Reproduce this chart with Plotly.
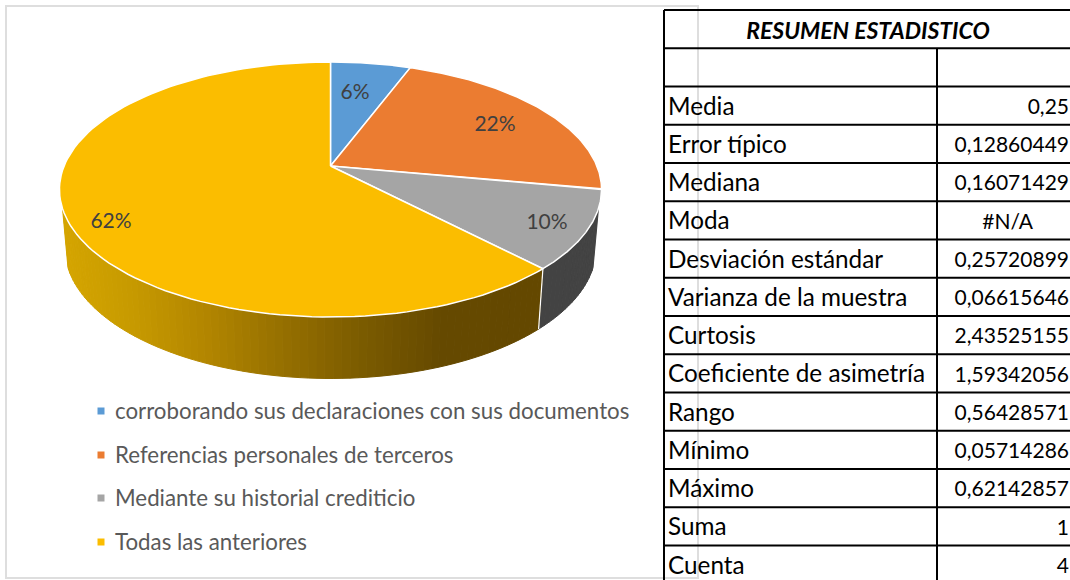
import numpy as np
import plotly.graph_objects as go

# encuesta: respuestas por opcion (140 en total, cuadra con el resumen)
categories = [
    "corroborando sus declaraciones con sus documentos",
    "Referencias personales de terceros",
    "Mediante su historial crediticio",
    "Todas las anteriores",
]
counts = [8, 31, 14, 87]
pct_labels = ["6%", "22%", "10%", "62%"]

stat_names = [
    "Media", "Error típico", "Mediana", "Moda", "Desviación estándar",
    "Varianza de la muestra", "Curtosis", "Coeficiente de asimetría",
    "Rango", "Mínimo", "Máximo", "Suma", "Cuenta",
]
stat_values = [
    "0,25", "0,12860449", "0,16071429", "#N/A", "0,25720899",
    "0,06615646", "2,43525155", "1,59342056", "0,56428571",
    "0,05714286", "0,62142857", "1", "4",
]

colors = ["#5B9BD5", "#EB7C31", "#A5A5A5", "#FBBD00"]
wall_dark = "#434343"
wall_x = [60, 130, 200, 290, 360, 440, 540]
wall_rgb = [(214, 166, 0), (200, 155, 0), (181, 136, 0), (148, 110, 0),
            (124, 92, 0), (102, 74, 0), (100, 72, 0)]
text_color = "#404040"
font_name = "Lato"

# perspectiva del pastel, en pixeles de la pagina
cx, cy = 330.5, 166
A, B, p = 266.4, 123.2, 0.1844
A2, B2, D = 261, 126, 58
wall_start, wall_end = 109, 251
label_pos = [(355, 94), (495, 126), (547, 224), (111, 223)]
legend_y = [411, 455, 498, 542]
legend_text_y = [413, 457, 500, 544]


def top(theta, r=1.0):
    t = np.radians(theta)
    s = 1 / (1 + p * r * np.cos(t))
    return cx + A * r * np.sin(t) * s, cy - B * r * np.cos(t) * s


def bottom(theta):
    t = np.radians(theta)
    s = 1 / (1 + p * np.cos(t))
    return cx + A2 * np.sin(t) * s, cy - B2 * np.cos(t) * s + D


def wall_color(x):
    rgb = [np.interp(x, wall_x, [c[i] for c in wall_rgb]) for i in range(3)]
    return "rgb(%d,%d,%d)" % tuple(rgb)


def poly(xs, ys, fill, line=None, width=1):
    return go.Scatter(
        x=xs, y=ys, mode="lines", fill="toself", fillcolor=fill,
        line=dict(color=line or fill, width=width),
        hoverinfo="skip", showlegend=False,
    )


shares = np.array(counts) / sum(counts)
edges = np.concatenate([[0], np.cumsum(shares)]) * 360

fig = go.Figure()

# paredes: gris oscuro y franjas del amarillo
split = edges[3]
for a, b in zip(np.arange(wall_start, wall_end, 1.5), np.arange(wall_start, wall_end, 1.5) + 1.5):
    a2, b2 = a, min(b, wall_end)
    if a < split < b:
        b2 = split
    th = np.array([a2, b2])
    tx, ty = top(th)
    bx, by = bottom(th)
    xs = [tx[0], tx[1], bx[1], bx[0], tx[0]]
    ys = [ty[0], ty[1], by[1], by[0], ty[0]]
    col = wall_dark if a < split else wall_color(np.mean(xs))
    fig.add_trace(poly(xs, ys, col))
    if a < split < b:
        th = np.array([split, b])
        tx, ty = top(th)
        bx, by = bottom(th)
        xs = [tx[0], tx[1], bx[1], bx[0], tx[0]]
        ys = [ty[0], ty[1], by[1], by[0], ty[0]]
        fig.add_trace(poly(xs, ys, wall_color(np.mean(xs))))

ex, ey = top(split)
fx, fy = bottom(split)
fig.add_trace(go.Scatter(x=[ex, fx], y=[ey, fy], mode="lines",
                         line=dict(color="white", width=1.2),
                         hoverinfo="skip", showlegend=False))

# cara superior
for i in range(len(counts)):
    th = np.linspace(edges[i], edges[i + 1], 120)
    rx, ry = top(th)
    xs = np.concatenate([[cx], rx, [cx]])
    ys = np.concatenate([[cy], ry, [cy]])
    fig.add_trace(poly(xs, ys, colors[i], "white", 1.5))

fig.add_trace(go.Scatter(
    x=[q[0] for q in label_pos], y=[q[1] for q in label_pos],
    mode="text", text=pct_labels, textposition="middle center",
    textfont=dict(family=font_name, size=21, color=text_color),
    hoverinfo="skip", showlegend=False,
))

# leyenda
fig.add_trace(go.Scatter(
    x=[101] * 4, y=legend_y, mode="markers",
    marker=dict(symbol="square", size=7, color=colors),
    hoverinfo="skip", showlegend=False,
))
fig.add_trace(go.Scatter(
    x=[115] * 4, y=legend_text_y, mode="text", text=categories,
    textposition="middle right",
    textfont=dict(family=font_name, size=22.3, color="#595959"),
    hoverinfo="skip", showlegend=False,
))

# tabla
row_h = 38.25
row_top = 10
text_dy = 3
n_rows = len(stat_names) + 2
rows_y = [row_top + row_h * (i + 2.5) + text_dy for i in range(len(stat_names))]
shapes = [
    # marco del grafico
    dict(type="rect", x0=6, y0=6, x1=698, y1=578, line=dict(color="#DEDEDE", width=2), layer="below"),
    dict(type="line", x0=664, y0=row_top, x1=664, y1=582, line=dict(color="black", width=2)),
    dict(type="line", x0=937, y0=row_top + row_h, x1=937, y1=582, line=dict(color="black", width=2)),
]
for i in range(n_rows):
    y = row_top + row_h * i
    shapes.append(dict(type="line", x0=664, y0=y, x1=1072, y1=y, line=dict(color="black", width=2)))

fig.add_trace(go.Scatter(
    x=[868], y=[row_top + row_h / 2 + text_dy + 1], mode="text",
    text=["<b><i>RESUMEN ESTADISTICO</i></b>"], textposition="middle center",
    textfont=dict(family=font_name, size=23, color="black"),
    hoverinfo="skip", showlegend=False,
))
fig.add_trace(go.Scatter(
    x=[668] * len(stat_names), y=rows_y, mode="text", text=stat_names,
    textposition="middle right",
    textfont=dict(family=font_name, size=24.3, color="black"),
    hoverinfo="skip", showlegend=False,
))
fig.add_trace(go.Scatter(
    x=[1069 if v != "#N/A" else 1033 for v in stat_values], y=rows_y, mode="text",
    text=stat_values, textposition="middle left",
    textfont=dict(family=font_name, size=21, color="black"),
    hoverinfo="skip", showlegend=False,
))

fig.update_layout(
    width=1070, height=580,
    margin=dict(l=0, r=0, t=0, b=0),
    paper_bgcolor="white", plot_bgcolor="white",
    showlegend=False, shapes=shapes,
    xaxis=dict(range=[0, 1070], visible=False, fixedrange=True),
    yaxis=dict(range=[580, 0], visible=False, fixedrange=True),
)

# la pagina trae 8 px de margen en body
fig.write_html(
    "out.html",
    config={"displayModeBar": False},
    post_script="document.body.style.margin='0';document.body.style.overflow='hidden';",
)
